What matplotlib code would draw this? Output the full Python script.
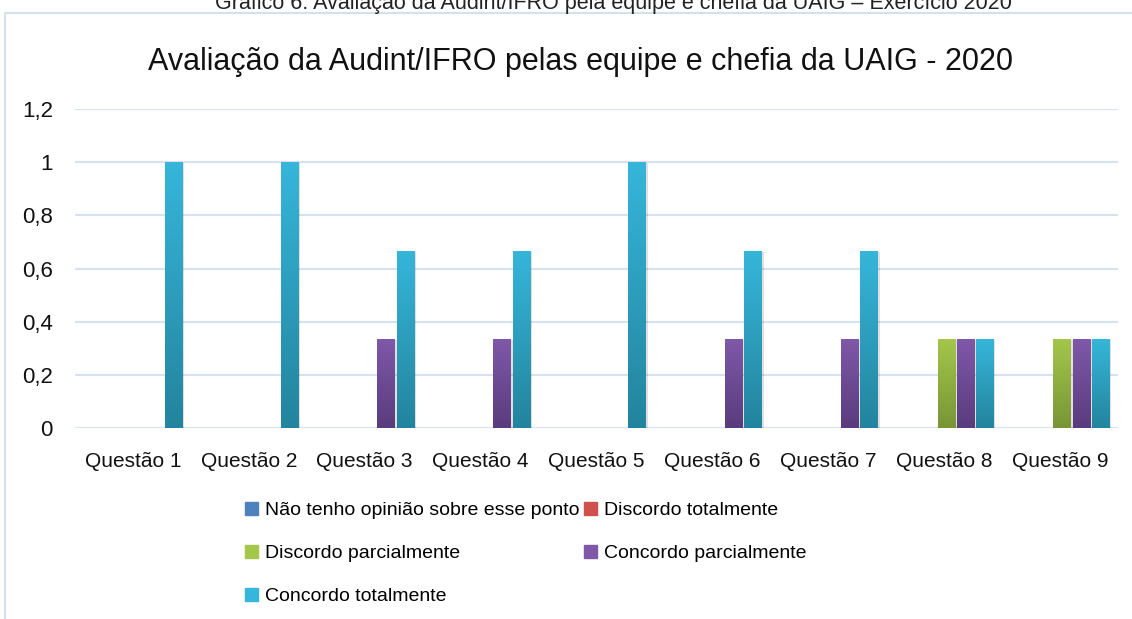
import numpy as np
import matplotlib.pyplot as plt
from matplotlib.patches import Rectangle
from matplotlib.colors import LinearSegmentedColormap

plt.rcParams['font.family'] = ['Liberation Sans', 'DejaVu Sans']

# --- DATA ---
categories = ['Questão 1', 'Questão 2', 'Questão 3', 'Questão 4', 'Questão 5',
              'Questão 6', 'Questão 7', 'Questão 8', 'Questão 9']
series_names = ['Não tenho opinião sobre esse ponto', 'Discordo totalmente',
                'Discordo parcialmente', 'Concordo parcialmente', 'Concordo totalmente']
sem_opiniao = [0, 0, 0, 0, 0, 0, 0, 0, 0]
discordo_total = [0, 0, 0, 0, 0, 0, 0, 0, 0]
discordo_parcial = [0, 0, 0, 0, 0, 0, 0, 0.3333, 0.3333]
concordo_parcial = [0, 0, 0.3333, 0.3333, 0, 0.3333, 0.3333, 0.3333, 0.3333]
concordo_total = [1, 1, 0.6667, 0.6667, 1, 0.6667, 0.6667, 0.3333, 0.3333]
y_ticks = [0, 0.2, 0.4, 0.6, 0.8, 1.0, 1.2]

all_series = [sem_opiniao, discordo_total, discordo_parcial, concordo_parcial, concordo_total]
# (top colour, bottom colour) for the Excel-like gradient
colours = [('#4f81bd', '#2f5d93'), ('#d0504d', '#9a3431'), ('#a4c64a', '#789536'),
           ('#7f58a8', '#593c7d'), ('#36b6da', '#23849d')]

fig = plt.figure(figsize=(11.32, 6.19), dpi=100)

# caption above the chart (cut off at the top in the source image)
fig.text(613 / 1132, 1 - 9 / 619, 'Gráfico 6: Avaliação da Audint/IFRO pela equipe e chefia da UAIG – Exercício 2020',
         ha='center', va='baseline', fontsize=15.5, color='#222222', zorder=5)

# chart border
fig.patches.append(Rectangle((5 / 1132, -0.05), 1.2, 1 - 13 / 619 + 0.05, transform=fig.transFigure,
                             fill=False, edgecolor='#d5e0ef', linewidth=1.5))

fig.text(580 / 1132, 1 - 62 / 619, 'Avaliação da Audint/IFRO pelas equipe e chefia da UAIG - 2020',
         ha='center', va='center', fontsize=22, color='#111111')

ax = fig.add_axes([75 / 1132, 191 / 619, (1118 - 75) / 1132, (510 - 191) / 619])

x = np.arange(len(categories))
slot = 0.1667
width = 0.155

handles = []
for i, (vals, (top, bottom)) in enumerate(zip(all_series, colours)):
    bars = ax.bar(x + (i - 2) * slot + 0.02, vals, width, color=top, edgecolor='none',
                  label=series_names[i], zorder=3)
    handles.append(Rectangle((0, 0), 1, 1, color=top))
    cmap = LinearSegmentedColormap.from_list('g%d' % i, [bottom, top])
    grad = np.linspace(0, 1, 256).reshape(-1, 1)
    for b in bars:
        h = b.get_height()
        if h <= 0:
            continue
        x0 = b.get_x()
        # soft shadow
        ax.add_patch(Rectangle((x0 + 0.012, -0.004), b.get_width(), h, color='#000000',
                               alpha=0.12, lw=0, zorder=2))
        im = ax.imshow(grad, cmap=cmap, origin='lower', aspect='auto',
                       extent=(x0, x0 + b.get_width(), 0, h), zorder=4)
        im.set_clip_path(b)

ax.set_xlim(-0.5, len(categories) - 0.5)
ax.set_ylim(0, 1.2)
ax.set_yticks(y_ticks)
ax.set_yticklabels([('%g' % t).replace('.', ',') for t in y_ticks])
ax.set_xticks(x)
ax.set_xticklabels(categories)
ax.tick_params(axis='both', length=0, labelsize=15, colors='#111111')
ax.tick_params(axis='y', labelsize=16, pad=16)
ax.tick_params(axis='x', pad=17)
ax.grid(axis='y', color='#d7e2f1', linewidth=1.5, zorder=0)
for s in ax.spines.values():
    s.set_visible(False)

# legend laid out row-wise: reorder because matplotlib fills columns first
order = [0, 2, 4, 1, 3]
leg = fig.legend([handles[k] for k in order], [series_names[k] for k in order],
                 ncol=2, loc='upper left', bbox_to_anchor=(235 / 1132, 1 - 492 / 619),
                 frameon=False, fontsize=14, handlelength=0.7, handleheight=0.7,
                 handletextpad=0.35, columnspacing=0.2, labelspacing=1.3, borderpad=0)

fig.savefig('out.png', dpi=100)
